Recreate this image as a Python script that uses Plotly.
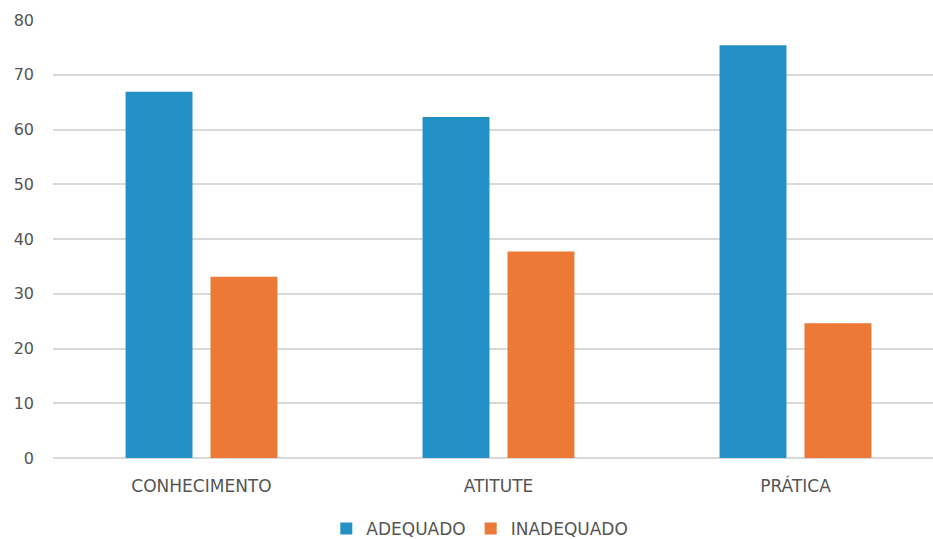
import plotly.graph_objects as go

# Category labels and percentages per series
categories = ["CONHECIMENTO", "ATITUTE", "PRÁTICA"]
adequado = [66.9, 62.3, 75.4]
inadequado = [33.1, 37.7, 24.6]
y_ticks = [0, 10, 20, 30, 40, 50, 60, 70, 80]

BLUE = "#2391c5"
ORANGE = "#ec7935"
TEXT = "#555555"
GRID = "#d9d9d9"
FONT = "DejaVu Sans"

fig = go.Figure()
fig.add_trace(go.Bar(name="ADEQUADO", x=categories, y=adequado,
                     marker=dict(color=BLUE, line=dict(width=0))))
fig.add_trace(go.Bar(name="INADEQUADO", x=categories, y=inadequado,
                     marker=dict(color=ORANGE, line=dict(width=0))))

fig.update_layout(
    width=933, height=539,
    margin=dict(l=53, r=0, t=20, b=81, autoexpand=False),
    paper_bgcolor="white", plot_bgcolor="white",
    barmode="group", bargap=0.428, bargroupgap=0.212,
    font=dict(family=FONT, size=17, color=TEXT),
    showlegend=True,
    legend=dict(orientation="h", x=0.485, xanchor="center",
                yref="container", y=1 - 529 / 539, yanchor="middle",
                font=dict(family=FONT, size=17, color=TEXT),
                itemwidth=30, tracegroupgap=0),
)
fig.update_xaxes(
    range=[-0.5, 2.463], showgrid=False, showline=False, ticks="",
    automargin=False, ticklabelstandoff=16,
    tickfont=dict(family=FONT, size=17, color=TEXT),
)
fig.update_yaxes(
    range=[0, 80], tickvals=y_ticks, showgrid=True, gridcolor=GRID, gridwidth=1.5,
    zeroline=True, zerolinecolor=GRID, zerolinewidth=1.5, showline=False, ticks="",
    automargin=False,
    tickfont=dict(family=FONT, size=16, color=TEXT), ticklabelstandoff=18,
)

fig.write_html("out.html")
